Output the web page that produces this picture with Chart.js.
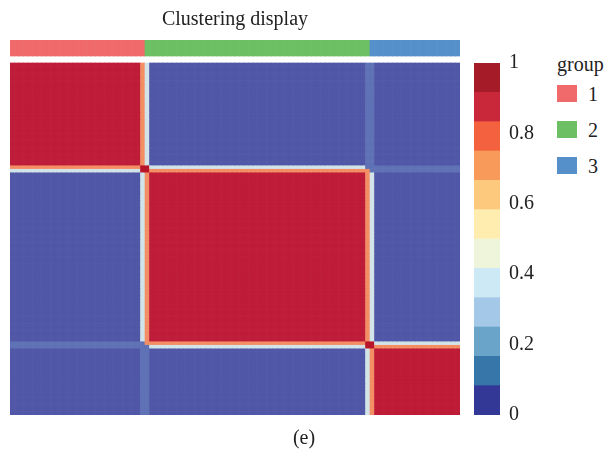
<!DOCTYPE html>
<html>
<head>
<meta charset="utf-8">
<script src="https://cdn.jsdelivr.net/npm/chart.js@4.4.0/dist/chart.umd.min.js"></script>
<style>
  body { margin: 0; background: #fff; font-family: "Liberation Serif", "DejaVu Serif", serif; color: #222; }
  #wrap { position: relative; width: 608px; height: 466px; }
  canvas { position: absolute; top: 0; }
  .txt { position: absolute; font-size: 20px; line-height: 20px; white-space: nowrap; }
  .sw { position: absolute; width: 20px; height: 17px; }
</style>
</head>
<body>
<div id="wrap">
  <canvas id="heat" width="470" height="466" style="left:0"></canvas>
  <canvas id="bar" width="90" height="466" style="left:464px"></canvas>
  <div class="txt" style="left:0;width:470px;text-align:center;top:8px">Clustering display</div>
  <div class="txt" style="left:0;width:608px;text-align:center;top:427px">(e)</div>
  <div class="txt" style="left:557px;top:54px">group</div>
  <div id="groupLegend"></div>
</div>
<script>
// samples ordered by cluster
const groupNames = ['1', '2', '3'];
const groupSizes = [30, 50, 20];
const groupColors = ['#f0696b', '#6dbf63', '#5590cb'];

// consensus values
const withinConsensus = [0.97, 0.97, 0.96];
const betweenConsensus = 0.03;
// samples on block edges: [sample index, group it borders]
const edgeSamples = [[29, 1], [30, 0], [79, 2], [80, 1]];
const edgeSame = 0.74;   // edge sample vs its own cluster
const edgeOther = 0.38;  // edge sample vs the neighbouring cluster
const edgeFaint = 0.1;   // edge sample vs the remaining cluster
const edgeCorner = 0.9;

// colour bar
const legendColors = ['#333795', '#3776a8', '#6aa4c9', '#a4c8e8', '#cde9f5', '#eef5da',
                      '#ffedb0', '#fdca7d', '#f89a5a', '#f3613f', '#c9283a', '#a51b27'];
const legendTicks = [0, 0.2, 0.4, 0.6, 0.8, 1];

// heatmap colour stops (value, colour)
const heatStops = [[0, '#4b4ba1'], [0.15, '#6a86c0'], [0.3, '#b4d3ea'], [0.45, '#eef3e6'],
                   [0.6, '#fde2a0'], [0.8, '#ee6a4a'], [0.9, '#b8142a'], [1, '#c01f3e']];

function hex(c) { return [1, 3, 5].map(i => parseInt(c.substr(i, 2), 16)); }
function heatColor(v) {
  for (let k = 1; k < heatStops.length; k++) {
    const [v1, c1] = heatStops[k];
    const [v0, c0] = heatStops[k - 1];
    if (v <= v1) {
      const t = (v - v0) / (v1 - v0);
      const a = hex(c0), b = hex(c1);
      return 'rgb(' + a.map((x, i) => Math.round(x + (b[i] - x) * t)).join(',') + ')';
    }
  }
  return heatStops[heatStops.length - 1][1];
}

const sampleGroup = [];
groupSizes.forEach((n, g) => { for (let i = 0; i < n; i++) sampleGroup.push(g); });
const N = sampleGroup.length;
const labels = sampleGroup.map((g, i) => String(i + 1));
const edgeBorder = {};
edgeSamples.forEach(([s, b]) => { edgeBorder[s] = b; });

function edgeValue(e, g) {
  if (g === sampleGroup[e]) return edgeSame;
  if (g === edgeBorder[e]) return edgeOther;
  return edgeFaint;
}

function consensus(i, j) {
  const ei = i in edgeBorder, ej = j in edgeBorder;
  const gi = sampleGroup[i], gj = sampleGroup[j];
  if (ei && ej) {
    if (gi === gj) return i === j ? edgeCorner : edgeSame;
    return edgeBorder[i] === gj && edgeBorder[j] === gi ? edgeCorner : edgeFaint;
  }
  if (ej) return edgeValue(j, gi);
  if (ei) return edgeValue(i, gj);
  return gi === gj ? withinConsensus[gi] : betweenConsensus;
}

const annotTop = -6.53, annotBottom = -1.98;
const datasets = [];
for (let r = 0; r < N; r++) {
  datasets.push({
    data: labels.map(() => [r, r + 1]),
    backgroundColor: labels.map((l, c) => heatColor(consensus(r, c)))
  });
}
datasets.push({
  data: labels.map(() => [annotTop, annotBottom]),
  backgroundColor: sampleGroup.map(g => groupColors[g])
});

new Chart(document.getElementById('heat'), {
  type: 'bar',
  data: { labels: labels, datasets: datasets },
  options: {
    responsive: false,
    animation: false,
    devicePixelRatio: 1,
    layout: { padding: { left: 10, right: 10, top: 40, bottom: 51 } },
    datasets: { bar: { grouped: false, barPercentage: 1, categoryPercentage: 1, borderWidth: 0 } },
    plugins: { legend: { display: false }, tooltip: { enabled: false } },
    scales: {
      x: { display: false },
      y: { display: false, reverse: true, min: annotTop, max: N }
    }
  }
});

// colour bar with its own axis
new Chart(document.getElementById('bar'), {
  type: 'bar',
  data: {
    labels: [''],
    datasets: legendColors.map((c, i) => ({
      data: [[i / legendColors.length, (i + 1) / legendColors.length]],
      backgroundColor: c
    }))
  },
  options: {
    responsive: false,
    animation: false,
    devicePixelRatio: 1,
    layout: { padding: { left: 10, right: 0, top: 63, bottom: 51 } },
    datasets: { bar: { grouped: false, barPercentage: 1, categoryPercentage: 1, borderWidth: 0 } },
    plugins: { legend: { display: false }, tooltip: { enabled: false } },
    scales: {
      x: { display: false },
      y: {
        position: 'right', min: 0, max: 1,
        afterFit: s => { s.width = 54; },
        afterBuildTicks: s => { s.ticks = legendTicks.map(v => ({ value: v })); },
        grid: { display: false, drawTicks: false },
        border: { display: false },
        ticks: {
          padding: 9, color: '#222', font: { family: 'Liberation Serif', size: 20 },
          callback: v => String(v)
        }
      }
    }
  }
});

// group legend
const gl = document.getElementById('groupLegend');
groupNames.forEach((name, g) => {
  const top = 85 + g * 36;
  gl.innerHTML += '<div class="sw" style="left:557px;top:' + top + 'px;background:' + groupColors[g] + '"></div>' +
    '<div class="txt" style="left:588px;top:' + (top - 1) + 'px">' + name + '</div>';
});
</script>
</body>
</html>
